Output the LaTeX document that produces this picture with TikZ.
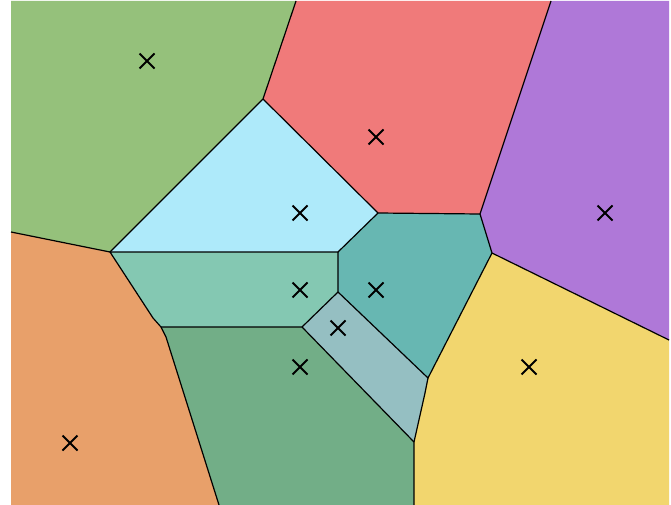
\documentclass[tikz,border=0pt]{standalone}
\usetikzlibrary{shapes.misc}
\definecolor{cgreen}{RGB}{149,193,123}
\definecolor{cred}{RGB}{240,122,122}
\definecolor{cpurple}{RGB}{175,120,216}
\definecolor{clblue}{RGB}{174,234,250}
\definecolor{caqua}{RGB}{132,200,178}
\definecolor{cteal}{RGB}{103,183,178}
\definecolor{cgrey}{RGB}{149,191,194}
\definecolor{cdgreen}{RGB}{114,174,135}
\definecolor{cyellow}{RGB}{242,214,110}
\definecolor{corange}{RGB}{232,160,106}
\tikzset{
  cell/.style={draw=black, line width=1.2pt, line join=round},
  site/.style={cross out, draw=black, line width=1.9pt, minimum size=15pt, inner sep=0pt, outer sep=0pt}
}
\begin{document}
\begin{tikzpicture}[x=1pt,y=-1pt]
\fill[white] (0,0) rectangle (671,505);
\useasboundingbox (0,0) rectangle (671,505);
% frame corners
\coordinate (TL) at (11,1);
\coordinate (TR) at (669,1);
\coordinate (BL) at (11,505);
\coordinate (BR) at (669,505);
% vertices
\coordinate (A) at (296,1);
\coordinate (F) at (551,1);
\coordinate (B) at (263,99);
\coordinate (C) at (378,213);
\coordinate (D) at (480,214);
\coordinate (E) at (492,253);
\coordinate (G) at (669,340);
\coordinate (H) at (338,252);
\coordinate (I) at (110,252);
\coordinate (J) at (11,232);
\coordinate (K1) at (153,318);
\coordinate (K) at (161,327);
\coordinate (K2) at (166,337);
\coordinate (L) at (302,327);
\coordinate (M) at (338,292);
\coordinate (N) at (428,378);
\coordinate (N2) at (425,393);
\coordinate (O) at (414,442);
\coordinate (P) at (414,505);
\coordinate (Q) at (219,505);
% cells
\fill[cgreen] (TL) -- (A) -- (B) -- (I) -- (J) -- cycle;
\fill[cred] (A) -- (F) -- (D) -- (C) -- (B) -- cycle;
\fill[cpurple] (F) -- (TR) -- (G) -- (E) -- (D) -- cycle;
\fill[clblue] (B) -- (C) -- (H) -- (I) -- cycle;
\fill[caqua] (I) -- (H) -- (M) -- (L) -- (K) -- (K1) -- cycle;
\fill[cteal] (C) -- (D) -- (E) -- (N) -- (M) -- (H) -- cycle;
\fill[cgrey] (M) -- (N) -- (N2) -- (O) -- (L) -- cycle;
\fill[cdgreen] (K) -- (L) -- (O) -- (P) -- (Q) -- (K2) -- cycle;
\fill[cyellow] (E) -- (G) -- (BR) -- (P) -- (O) -- (N2) -- (N) -- cycle;
\fill[corange] (J) -- (I) -- (K1) -- (K) -- (K2) -- (Q) -- (BL) -- cycle;
% edges
\draw[cell] (A) -- (B) -- (I) -- (J);
\draw[cell] (B) -- (C) -- (D) -- (F);
\draw[cell] (D) -- (E) -- (G);
\draw[cell] (C) -- (H) -- (I) -- (K1) -- (K) -- (K2) -- (Q);
\draw[cell] (H) -- (M) -- (L) -- (K);
\draw[cell] (M) -- (N) -- (E);
\draw[cell] (L) -- (O) -- (P);
\draw[cell] (N) -- (N2) -- (O);
% sites
\node[site] (s1) at (147,61) {};
\node[site] (s2) at (376,137) {};
\node[site] (s3) at (300,213) {};
\node[site] (s4) at (605,213) {};
\node[site] (s5) at (300,290) {};
\node[site] (s6) at (376,290) {};
\node[site] (s7) at (338,328) {};
\node[site] (s8) at (300,367) {};
\node[site] (s9) at (529,367) {};
\node[site] (s10) at (70,443) {};
\end{tikzpicture}
\end{document}
